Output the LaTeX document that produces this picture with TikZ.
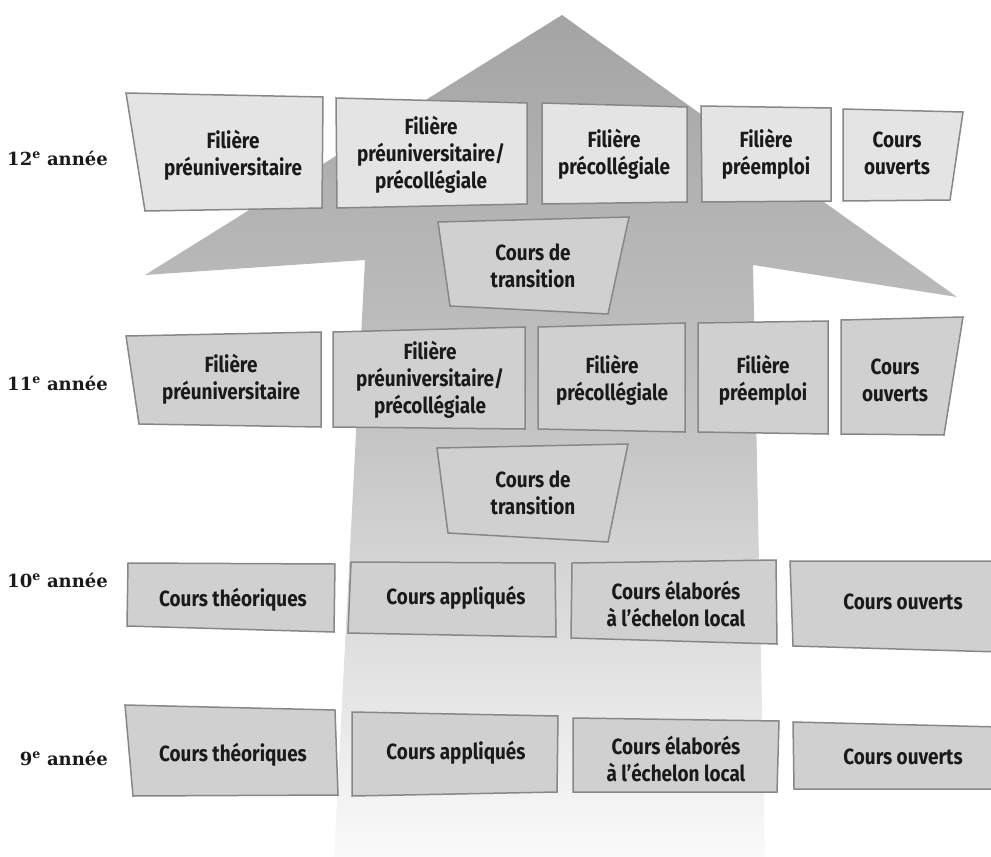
\documentclass[tikz,border=0pt]{standalone}
\usepackage{fontspec}
\setmainfont{DejaVu Serif}
\newfontfamily\boxfont[FakeStretch=0.86]{Fira Sans}
\usetikzlibrary{positioning}
\definecolor{flechehaut}{HTML}{A3A4A3}
\definecolor{flechebas}{HTML}{F9FAF9}
\definecolor{boxclair}{HTML}{E3E4E3}
\definecolor{boxfonce}{HTML}{CFD0CF}
\definecolor{bord}{HTML}{878787}
\definecolor{texte}{HTML}{1A1A1A}

\begin{document}
\begin{tikzpicture}[x=1pt, y=-1pt, line join=miter,
    clair/.style={fill=boxclair, draw=bord, line width=1.5pt},
    fonce/.style={fill=boxfonce, draw=bord, line width=1.5pt},
    txt/.style={align=center, text=texte, inner sep=0pt, font=\boxfont\bfseries\fontsize{22}{27}\selectfont},
    annee/.style={anchor=east, text=texte, inner sep=0pt, font=\bfseries\fontsize{18}{20}\selectfont}]
    \useasboundingbox (0,0) rectangle (991,857);

    % grande fleche
    \shade[top color=flechehaut, bottom color=flechebas, middle color=flechehaut!62!flechebas]
        (562,15) -- (957,297) -- (753,265) -- (765,857) -- (334,857) -- (365,260) -- (145,275) -- cycle;

    % 12e annee
    \draw[clair] (126,93) -- (323,97) -- (322,208) -- (145,211) -- cycle;
    \draw[clair] (336,98) -- (527,103) -- (527,204) -- (337,208) -- cycle;
    \draw[clair] (542,103) -- (687,107) -- (687,202) -- (542,204) -- cycle;
    \draw[clair] (701,106) -- (831,108) -- (831,201) -- (702,202) -- cycle;
    \draw[clair] (843,109) -- (963,112) -- (950,200) -- (843,201) -- cycle;
    \node[annee] (a12) at (108,158) {12\textsuperscript{e} année};
    \node[txt] (pu12) at (233,155) {Filière\\préuniversitaire};
    \node[txt] (pp12) at (431,155) {Filière\\préuniversitaire/\\précollégiale};
    \node[txt] (pc12) at (614,154) {Filière\\précollégiale};
    \node[txt] (pe12) at (766,154) {Filière\\préemploi};
    \node[txt] (co12) at (897,153) {Cours\\ouverts};

    \draw[fonce] (438,222) -- (629,217) -- (608,314) -- (450,306) -- cycle;
    \node[txt] (tr12) at (533,266) {Cours de\\transition};

    % 11e annee
    \draw[fonce] (126,336) -- (321,332) -- (321,427) -- (139,424) -- cycle;
    \draw[fonce] (333,332) -- (525,327) -- (525,429) -- (333,427) -- cycle;
    \draw[fonce] (538,327) -- (685,323) -- (685,432) -- (538,429) -- cycle;
    \draw[fonce] (698,323) -- (828,321) -- (828,434) -- (698,432) -- cycle;
    \draw[fonce] (841,320) -- (963,317) -- (944,435) -- (841,434) -- cycle;
    \node[annee] (a11) at (108,383) {11\textsuperscript{e} année};
    \node[txt] (pu11) at (231,379) {Filière\\préuniversitaire};
    \node[txt] (pp11) at (430,380) {Filière\\préuniversitaire/\\précollégiale};
    \node[txt] (pc11) at (612,380) {Filière\\précollégiale};
    \node[txt] (pe11) at (763,380) {Filière\\préemploi};
    \node[txt] (co11) at (895,380) {Cours\\ouverts};

    \draw[fonce] (437,448) -- (628,444) -- (608,542) -- (448,533) -- cycle;
    \node[txt] (tr11) at (533,493) {Cours de\\transition};

    % 10e annee
    \draw[fonce] (128,563) -- (335,564) -- (334,632) -- (127,626) -- cycle;
    \draw[fonce] (351,562) -- (555,563) -- (556,637) -- (348,633) -- cycle;
    \draw[fonce] (572,563) -- (776,560) -- (777,644) -- (571,638) -- cycle;
    \draw[fonce] (790,561) -- (1000,561) -- (1000,652) -- (793,646) -- cycle;
    \node[annee] (a10) at (108,580) {10\textsuperscript{e} année};
    \node[txt] (th10) at (233,600) {Cours théoriques};
    \node[txt] (ap10) at (456,598) {Cours appliqués};
    \node[txt] (el10) at (676,604) {Cours élaborés\\à l’échelon local};
    \node[txt] (co10) at (903,602) {Cours ouverts};

    % 9e annee
    \draw[fonce] (125,705) -- (335,710) -- (338,795) -- (133,796) -- cycle;
    \draw[fonce] (352,712) -- (558,716) -- (557,792) -- (352,796) -- cycle;
    \draw[fonce] (573,718) -- (779,721) -- (777,792) -- (573,792) -- cycle;
    \draw[fonce] (793,722) -- (1000,727) -- (1000,789) -- (794,789) -- cycle;
    \node[annee] (a9) at (108,758) {9\textsuperscript{e} année};
    \node[txt] (th9) at (233,755) {Cours théoriques};
    \node[txt] (ap9) at (456,753) {Cours appliqués};
    \node[txt] (el9) at (676,759) {Cours élaborés\\à l’échelon local};
    \node[txt] (co9) at (903,757) {Cours ouverts};
\end{tikzpicture}
\end{document}
